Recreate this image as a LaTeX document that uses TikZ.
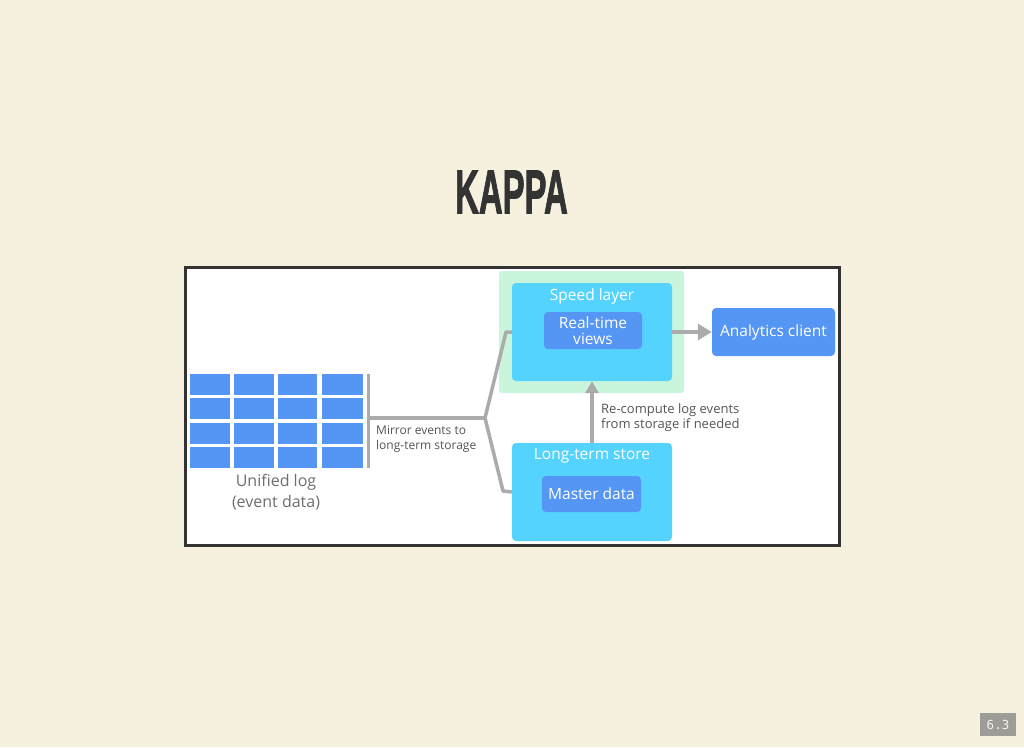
\documentclass[tikz,border=0pt]{standalone}
\usepackage{fontspec}
\setmainfont{Open Sans}
\newfontfamily\titlefont[FakeBold=2]{Liberation Sans Bold}
\newfontfamily\monofont{DejaVu Sans Mono}
\usetikzlibrary{arrows.meta}
\definecolor{bg}{HTML}{F6F1DF}
\definecolor{cyanbox}{HTML}{55D3FF}
\definecolor{bluebox}{HTML}{5596F5}
\definecolor{greenbg}{HTML}{C9F5DC}
\definecolor{conn}{HTML}{ABABAB}
\definecolor{txtgray}{HTML}{555555}
\definecolor{frame}{HTML}{333333}
\begin{document}
\begin{tikzpicture}[x=1pt,y=-1pt,
  outer/.style={fill=cyanbox,rounded corners=4pt},
  inner/.style={fill=bluebox,rounded corners=4pt},
  whitetxt/.style={text=white,font=\fontsize{15.5}{16.5}\selectfont,align=center},
  graytxt/.style={text=txtgray,align=left,inner sep=0pt,anchor=north west},
  conline/.style={draw=conn,line width=3.5pt},
  cell/.style={fill=bluebox}]
\useasboundingbox (0,0) rectangle (1024,747);
\fill[bg] (0,0) rectangle (1024,747);
% title
\node[text=frame,font=\titlefont\fontsize{62}{62}\selectfont,xscale=0.53,inner sep=0pt] (title) at (511.5,192) {KAPPA};
% frame
\draw[frame,fill=white,line width=3pt] (185,267) rectangle (839,545);
% green background
\fill[greenbg,rounded corners=3pt] (499,271) rectangle (684,393);
% speed layer
\path[outer] (512,283) rectangle (672,381);
\node[inner sep=0pt,minimum width=160pt,minimum height=98pt] (speed) at (592,332) {};
\node[whitetxt] (speedt) at (592,296) {Speed layer};
\node[inner,minimum width=98pt,minimum height=37pt,whitetxt,inner sep=0pt,font=\fontsize{15.5}{16.5}\selectfont] (rtv) at (593,330.5) {Real-time\\views};
% long-term
\path[outer] (512,443) rectangle (672,541);
\node[inner sep=0pt,minimum width=160pt,minimum height=98pt] (lts) at (592,492) {};
\node[whitetxt] (ltst) at (592,456) {Long-term store};
\node[inner,minimum width=99pt,minimum height=36pt,whitetxt,inner sep=0pt] (md) at (591.5,494) {Master data};
% analytics
\node[inner,minimum width=123pt,minimum height=48pt,whitetxt,inner sep=0pt] (ac) at (773.5,332) {Analytics client};
% arrows
\draw[conline,-{Triangle[length=14pt,width=16pt]}] (speed.east) -- (ac.west);
\draw[conline,-{Triangle[length=12pt,width=13pt]}] (lts.north) -- (speed.south);
\node[graytxt,font=\fontsize{13}{14.5}\selectfont] (recomp) at (601,403.5) {Re-compute log events\\from storage if needed};
% unified log grid
\foreach \x/\w in {190/40,234/40,278/39,322/41}{
  \foreach \y in {374,398,423,447}{
    \fill[cell] (\x,\y) rectangle ++(\w,20.5);
  }
}
\fill[conn] (366.5,374) rectangle (370,468);
\coordinate (bar) at (368,418);
\coordinate (fork) at (485,418);
\draw[conline,line join=round] (bar) -- (fork);
\draw[conline,line join=round] (fork) -- (506,332) -- (speed.west);
\draw[conline,line join=round] (fork) -- (503,491) -- (lts.west);
\node[graytxt,font=\fontsize{12}{15}\selectfont] (mirror) at (376,425) {Mirror events to\\long-term storage};
\node[text=txtgray!85,font=\fontsize{16}{20.5}\selectfont,align=center] (ult) at (276,492) {Unified log\\(event data)};
% page number
\node[fill=gray!75!bg,text=white!90!gray,font=\monofont\fontsize{12.5}{12.5}\selectfont,minimum width=36pt,minimum height=23pt,inner sep=0pt] (pg) at (998,724.5) {6.3};
\end{tikzpicture}
\end{document}
